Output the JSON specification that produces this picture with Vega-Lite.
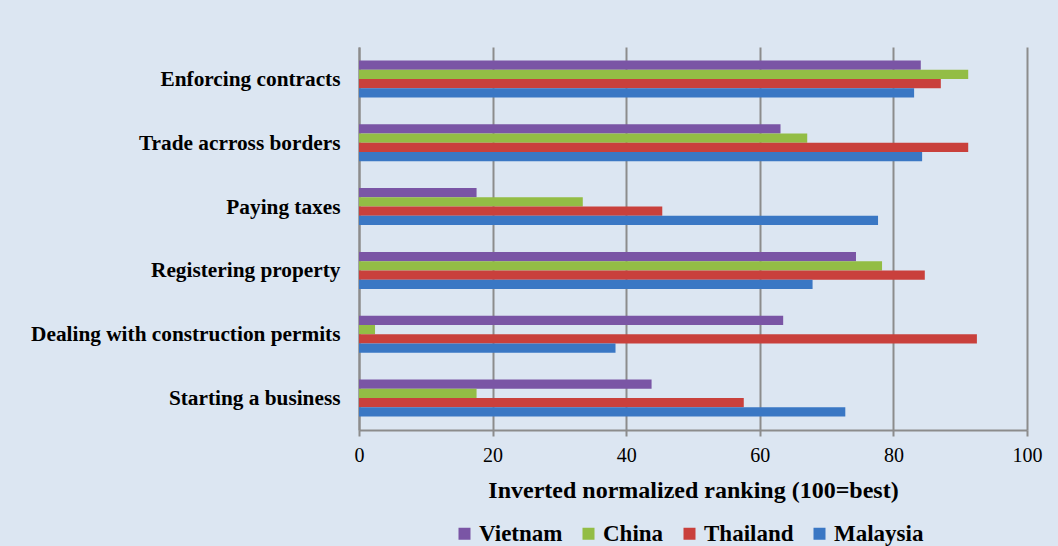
{
  "$schema": "https://vega.github.io/schema/vega-lite/v6.json",
  "autosize": "none",
  "width": 668,
  "height": 383,
  "padding": {"left": 359, "top": 47, "right": 31, "bottom": 116},
  "background": "#dce6f2",
  "data": {
    "values": [
      {"indicator": "Enforcing contracts", "country": "Vietnam", "value": 84.1},
      {"indicator": "Enforcing contracts", "country": "China", "value": 91.2},
      {"indicator": "Enforcing contracts", "country": "Thailand", "value": 87.1},
      {"indicator": "Enforcing contracts", "country": "Malaysia", "value": 83.1},
      {"indicator": "Trade acrross borders", "country": "Vietnam", "value": 63.1},
      {"indicator": "Trade acrross borders", "country": "China", "value": 67.1},
      {"indicator": "Trade acrross borders", "country": "Thailand", "value": 91.2},
      {"indicator": "Trade acrross borders", "country": "Malaysia", "value": 84.3},
      {"indicator": "Paying taxes", "country": "Vietnam", "value": 17.6},
      {"indicator": "Paying taxes", "country": "China", "value": 33.5},
      {"indicator": "Paying taxes", "country": "Thailand", "value": 45.4},
      {"indicator": "Paying taxes", "country": "Malaysia", "value": 77.7},
      {"indicator": "Registering property", "country": "Vietnam", "value": 74.4},
      {"indicator": "Registering property", "country": "China", "value": 78.3},
      {"indicator": "Registering property", "country": "Thailand", "value": 84.7},
      {"indicator": "Registering property", "country": "Malaysia", "value": 67.9},
      {"indicator": "Dealing with construction permits", "country": "Vietnam", "value": 63.5},
      {"indicator": "Dealing with construction permits", "country": "China", "value": 2.4},
      {"indicator": "Dealing with construction permits", "country": "Thailand", "value": 92.5},
      {"indicator": "Dealing with construction permits", "country": "Malaysia", "value": 38.4},
      {"indicator": "Starting a business", "country": "Vietnam", "value": 43.8},
      {"indicator": "Starting a business", "country": "China", "value": 17.6},
      {"indicator": "Starting a business", "country": "Thailand", "value": 57.6},
      {"indicator": "Starting a business", "country": "Malaysia", "value": 72.8}
    ]
  },
  "mark": {"type": "bar"},
  "encoding": {
    "y": {
      "field": "indicator",
      "type": "nominal",
      "sort": ["Enforcing contracts", "Trade acrross borders", "Paying taxes", "Registering property", "Dealing with construction permits", "Starting a business"],
      "scale": {"paddingInner": 0.42, "paddingOuter": 0.21},
      "axis": {
        "title": null,
        "ticks": false,
        "labelPadding": 19,
        "labelFont": "Liberation Serif",
        "labelFontSize": 21.3,
        "labelFontWeight": "bold",
        "labelColor": "#000000",
        "labelBaseline": "middle",
        "labelOffset": 1,
        "domainColor": "#8c8c8c",
        "domainWidth": 2,
        "labelLimit": 400
      }
    },
    "yOffset": {
      "field": "country",
      "type": "nominal",
      "sort": ["Vietnam", "China", "Thailand", "Malaysia"],
      "scale": {"paddingInner": 0, "paddingOuter": 0}
    },
    "x": {
      "field": "value",
      "type": "quantitative",
      "scale": {"domain": [0, 100], "nice": false},
      "axis": {
        "title": "Inverted normalized ranking (100=best)",
        "values": [0, 20, 40, 60, 80, 100],
        "labelFlush": false,
        "tickSize": 6,
        "tickColor": "#8c8c8c",
        "tickWidth": 2,
        "domainColor": "#8c8c8c",
        "domainWidth": 2,
        "gridColor": "#8c8c8c",
        "gridWidth": 2,
        "labelPadding": 9,
        "labelFont": "Liberation Serif",
        "labelFontSize": 20,
        "labelColor": "#000000",
        "titleFont": "Liberation Serif",
        "titleFontSize": 24,
        "titleFontWeight": "bold",
        "titleColor": "#000000",
        "titlePadding": 13
      }
    },
    "color": {
      "field": "country",
      "type": "nominal",
      "sort": ["Vietnam", "China", "Thailand", "Malaysia"],
      "scale": {
        "domain": ["Vietnam", "China", "Thailand", "Malaysia"],
        "range": ["#7a55a5", "#93bd45", "#c9403c", "#3a77c4"]
      },
      "legend": {
        "title": null,
        "orient": "none",
        "direction": "horizontal",
        "legendX": 94,
        "legendY": 475,
        "symbolType": "square",
        "symbolSize": 144,
        "symbolStrokeWidth": 0,
        "labelOffset": 3,
        "columnPadding": 14,
        "labelFont": "Liberation Serif",
        "labelFontSize": 23,
        "labelFontWeight": "bold",
        "labelColor": "#000000"
      }
    }
  },
  "config": {
    "view": {"stroke": null}
  }
}
